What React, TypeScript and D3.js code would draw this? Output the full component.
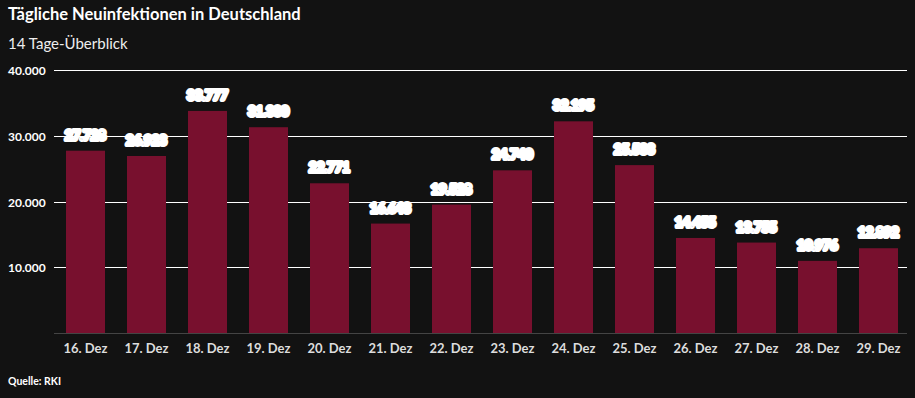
import React, { useEffect, useRef } from "react";
import * as d3 from "d3";

const days = ["16. Dez", "17. Dez", "18. Dez", "19. Dez", "20. Dez", "21. Dez", "22. Dez", "23. Dez", "24. Dez", "25. Dez", "26. Dez", "27. Dez", "28. Dez", "29. Dez"];
const cases = [27728, 26923, 33777, 31300, 22771, 16643, 19528, 24740, 32195, 25533, 14455, 13755, 10976, 12892];
const yTicks = [10000, 20000, 30000, 40000];

const W = 915;
const H = 398;
const font = "Lato, 'Open Sans', sans-serif";

export default function App() {
  const ref = useRef<SVGSVGElement>(null);

  useEffect(() => {
    const svg = d3.select(ref.current);
    svg.selectAll("*").remove();

    svg.append("rect").attr("width", W).attr("height", H).attr("fill", "#121212");

    const x = d3.scaleBand<string>().domain(days).range([55, 909]).paddingInner(0.36).paddingOuter(0.18);
    const y = d3.scaleLinear().domain([0, 40000]).range([333, 70]);
    const de = (v: number) => d3.format(",")(v).replace(/,/g, ".");

    svg.append("text").attr("x", 8).attr("y", 20).attr("fill", "#fff")
      .attr("font-family", font).attr("font-size", 16.5).attr("font-weight", 700)
      .text("Tägliche Neuinfektionen in Deutschland");
    svg.append("text").attr("x", 8).attr("y", 49).attr("fill", "#eee")
      .attr("font-family", font).attr("font-size", 15)
      .text("14 Tage-Überblick");

    // grid
    const grid = svg.append("g");
    grid.selectAll("line").data(yTicks).enter().append("line")
      .attr("x1", 54).attr("x2", 907)
      .attr("y1", (d) => Math.round(y(d)) + 0.5).attr("y2", (d) => Math.round(y(d)) + 0.5)
      .attr("stroke", "#fff").attr("stroke-width", 1);
    grid.selectAll("text").data(yTicks).enter().append("text")
      .attr("x", 8).attr("y", (d) => y(d) + 5)
      .attr("fill", "#fff").attr("font-family", font).attr("font-size", 12).attr("font-weight", 700)
      .text((d) => de(d));

    svg.append("g").selectAll("rect").data(cases).enter().append("rect")
      .attr("x", (_, i) => x(days[i])!)
      .attr("y", (d) => y(d))
      .attr("width", x.bandwidth())
      .attr("height", (d) => y(0) - y(d))
      .attr("fill", "#78102e");

    svg.append("line").attr("x1", 54).attr("x2", 907).attr("y1", 333.5).attr("y2", 333.5)
      .attr("stroke", "#444").attr("stroke-width", 1);

    // value labels
    svg.append("g").selectAll("text").data(cases).enter().append("text")
      .attr("x", (_, i) => x(days[i])! + x.bandwidth() / 2)
      .attr("y", (d) => y(d) - 11)
      .attr("text-anchor", "middle")
      .attr("fill", "#fff").attr("stroke", "#fff").attr("stroke-width", 4).attr("stroke-linejoin", "round")
      .attr("font-family", font).attr("font-size", 13).attr("font-weight", 700)
      .text((d) => de(d));

    svg.append("g").selectAll("text").data(days).enter().append("text")
      .attr("x", (d) => x(d)! + x.bandwidth() / 2)
      .attr("y", 353)
      .attr("text-anchor", "middle")
      .attr("fill", "#ddd").attr("font-family", font).attr("font-size", 13).attr("font-weight", 700)
      .text((d) => d);

    svg.append("text").attr("x", 8).attr("y", 385).attr("fill", "#fff")
      .attr("font-family", font).attr("font-size", 10.5).attr("font-weight", 700)
      .text("Quelle: RKI");
  }, []);

  return (
    <svg ref={ref} width={W} height={H} style={{ position: "absolute", left: 0, top: 0, display: "block" }} />
  );
}
